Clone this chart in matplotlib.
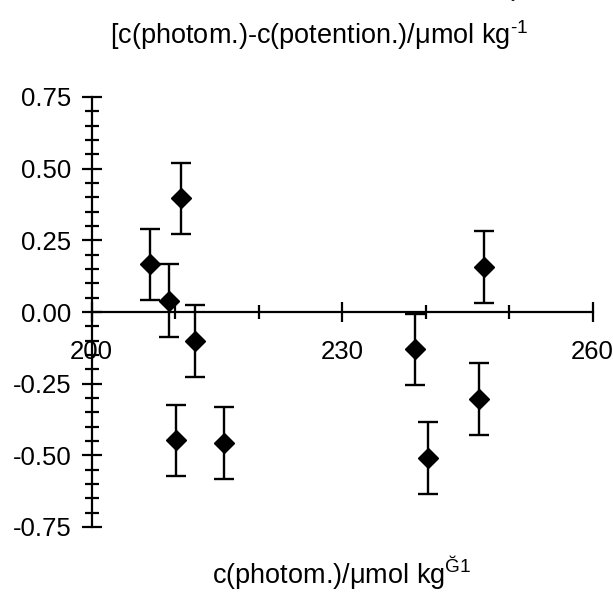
import matplotlib
matplotlib.use('Agg')
import matplotlib.pyplot as plt
from matplotlib.ticker import MultipleLocator

# Data
x_photom = [207.0, 209.3, 210.7, 212.4, 210.1, 215.9, 240.3, 247.0, 238.7, 246.4]
y_diff = [0.166, 0.039, 0.396, -0.100, -0.448, -0.458, -0.510, 0.157, -0.130, -0.304]
y_err = [0.125, 0.127, 0.125, 0.125, 0.124, 0.125, 0.125, 0.124, 0.123, 0.125]

x_ticks = [200, 230, 260]
y_ticks = [-0.75, -0.50, -0.25, 0.00, 0.25, 0.50, 0.75]

plt.rcParams['font.family'] = ['Liberation Sans', 'DejaVu Sans']
plt.rcParams['mathtext.fontset'] = 'custom'
plt.rcParams['mathtext.rm'] = 'Liberation Sans'
plt.rcParams['font.size'] = 19.5

W, H = 613, 595
fig = plt.figure(figsize=(W / 100, H / 100), dpi=100)
ax = fig.add_axes([91.5 / W, (H - 527) / H, 501 / W, 430 / H])

ax.errorbar(x_photom, y_diff, yerr=y_err, fmt='D', color='black',
            markersize=10.5, elinewidth=1.7, capsize=7, capthick=1.7, zorder=3)

ax.set_xlim(200, 260)
ax.set_ylim(-0.75, 0.75)

# axes cross at (200, 0)
ax.spines['left'].set_position(('data', 200))
ax.spines['bottom'].set_position(('data', 0))
ax.spines['top'].set_visible(False)
ax.spines['right'].set_visible(False)
for s in ('left', 'bottom'):
    ax.spines[s].set_linewidth(1.6)
    ax.spines[s].set_zorder(2)

ax.set_xticks(x_ticks)
ax.xaxis.set_minor_locator(MultipleLocator(10))
ax.set_yticks(y_ticks)
ax.set_yticklabels([f'{v:.2f}' for v in y_ticks])
ax.yaxis.set_minor_locator(MultipleLocator(0.05))

ax.tick_params(axis='both', which='major', direction='inout', length=15, width=1.6,
               labelsize=18.5)
ax.tick_params(axis='both', which='minor', direction='inout', length=10, width=1.6)
ax.tick_params(axis='x', which='major', pad=13)
ax.tick_params(axis='y', which='major', pad=7)

# titles
fig.text(319 / W, 1 - 35 / H, '[c(photom.)-c(potention.)/μmol kg$^{\\text{-1}}$',
         ha='center', va='center')
fig.text(513 / W, 1 - 6 / H, '˘', ha='center', va='center', fontsize=10)
fig.text(342 / W, 1 - 572 / H, 'c(photom.)/μmol kg$^{\\mathrm{Ğ1}}$',
         ha='center', va='center')

plt.savefig('out.png', dpi=100)
plt.close()
